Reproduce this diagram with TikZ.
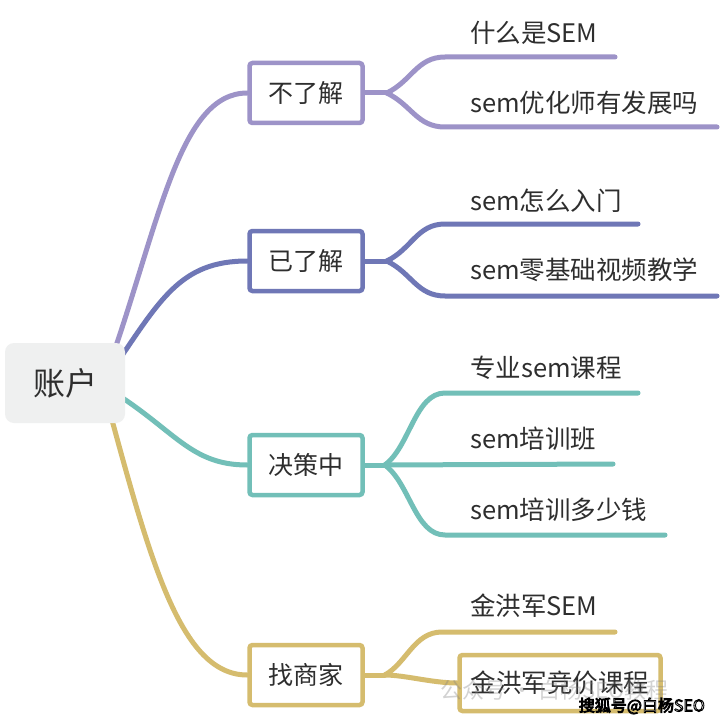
\documentclass[tikz,border=0pt]{standalone}
\usepackage{fontspec}
\setmainfont{Noto Sans CJK SC}
\usetikzlibrary{calc,backgrounds}
\definecolor{cpurple}{HTML}{9D93C8}
\definecolor{cblue}{HTML}{6F77B6}
\definecolor{cteal}{HTML}{72BFB8}
\definecolor{cgold}{HTML}{D5BC6E}
\definecolor{rootfill}{HTML}{EFF0F0}
\definecolor{txt}{HTML}{2E2E2E}
\tikzset{
  rootbox/.style={fill=rootfill, rounded corners=9pt, minimum width=120pt, minimum height=80pt, inner sep=0pt, text=txt, font=\fontsize{32}{36}\selectfont},
  topic/.style={draw=#1, line width=4.5pt, fill=white, rounded corners=3pt, minimum width=113pt, minimum height=60pt, inner sep=0pt, text=txt, font=\fontsize{25}{30}\selectfont},
  leaf/.style={anchor=west, inner sep=0pt, text=txt, font=\fontsize{25.5}{28}\selectfont},
  conn/.style={draw=#1, line width=5pt, line cap=round},
  wm/.style={inner sep=0pt, font=\fontsize{16}{18}\selectfont}
}
\begin{document}
\begin{tikzpicture}[x=1pt,y=-1pt]
\useasboundingbox (0,0) rectangle (720,722);

% root and topics
\node[rootbox] (root) at (65,383) {账户};
\node[topic=cpurple] (t1) at (306,93) {不了解};
\node[topic=cblue] (t2) at (306,261) {已了解};
\node[topic=cteal] (t3) at (306,465) {决策中};
\node[topic=cgold] (t4) at (306,675) {找商家};

% leaf texts
\node[leaf] (a1) at (470,33) {什么是SEM};
\node[leaf] (a2) at (470,103) {sem优化师有发展吗};
\node[leaf] (b1) at (470,201) {sem怎么入门};
\node[leaf] (b2) at (470,270) {sem零基础视频教学};
\node[leaf] (c1) at (470,368) {专业sem课程};
\node[leaf] (c2) at (470,439) {sem培训班};
\node[leaf] (c3) at (470,510) {sem培训多少钱};
\node[leaf] (d1) at (470,606) {金洪军SEM};
\node[topic=cgold, minimum width=201pt, minimum height=56pt, font=\fontsize{25.5}{30}\selectfont] (d2) at (560,683) {金洪军竞价课程};

% leaf line coordinates
\coordinate (a1s) at (445,57);  \coordinate (a1e) at (615,57);
\coordinate (a2s) at (445,127); \coordinate (a2e) at (717,127);
\coordinate (b1s) at (445,224); \coordinate (b1e) at (638,224);
\coordinate (b2s) at (445,296); \coordinate (b2e) at (717,296);
\coordinate (c1s) at (445,393); \coordinate (c1e) at (638,393);
\coordinate (c2e) at (613,464);
\coordinate (c3s) at (445,535); \coordinate (c3e) at (665,535);
\coordinate (d1s) at (442,632); \coordinate (d1e) at (615,632);

\begin{pgfonlayer}{background}
\fill[white] (0,0) rectangle (720,722);
% root to topics
\draw[conn=cpurple] ($(root.east)+(-15,-20)$) .. controls (160,220) and (180,93) .. (t1.west);
\draw[conn=cblue] ($(root.east)+(-13,-13)$) .. controls (160,300) and (180,261) .. (t2.west);
\draw[conn=cteal] ($(root.east)+(-15,7)$) .. controls (175,430) and (190,465) .. (t3.west);
\draw[conn=cgold] ($(root.east)+(-20,12)$) .. controls (150,560) and (180,675) .. (t4.west);

% topic 1
\draw[conn=cpurple] (t1.east) -- ++(22,0) coordinate (j1);
\draw[conn=cpurple] (j1) .. controls +(25,-12) and +(-28,0) .. (a1s) -- (a1e);
\draw[conn=cpurple] (j1) .. controls +(25,12) and +(-28,0) .. (a2s) -- (a2e);
% topic 2
\draw[conn=cblue] (t2.east) -- ++(22,0) coordinate (j2);
\draw[conn=cblue] (j2) .. controls +(25,-12) and +(-28,0) .. (b1s) -- (b1e);
\draw[conn=cblue] (j2) .. controls +(25,12) and +(-28,0) .. (b2s) -- (b2e);
% topic 3
\draw[conn=cteal] (t3.east) -- ++(20,0) coordinate (j3);
\draw[conn=cteal] (j3) .. controls +(25,-18) and +(-30,0) .. (c1s) -- (c1e);
\draw[conn=cteal] (j3) -- (c2e);
\draw[conn=cteal] (j3) .. controls +(25,18) and +(-30,0) .. (c3s) -- (c3e);
% topic 4
\draw[conn=cgold] (t4.east) -- ++(20,0) coordinate (j4);
\draw[conn=cgold] (j4) .. controls +(22,-12) and +(-28,0) .. (d1s) -- (d1e);
\draw[conn=cgold] (j4) .. controls +(20,0) and +(-25,0) .. (d2.west);
\end{pgfonlayer}

% watermarks
\node[wm, font=\fontsize{22}{24}\selectfont, text=gray, opacity=0.35, anchor=west] (wm1) at (440,690) {公众号 · 白杨SEO教程};
\node[wm, text=white, anchor=east] (wm2) at (705,706) {\special{pdf:literal direct 0 0 0 RG 0.9 w 2 Tr}搜狐号@白杨SEO\special{pdf:literal direct 0 Tr}};
\end{tikzpicture}
\end{document}
